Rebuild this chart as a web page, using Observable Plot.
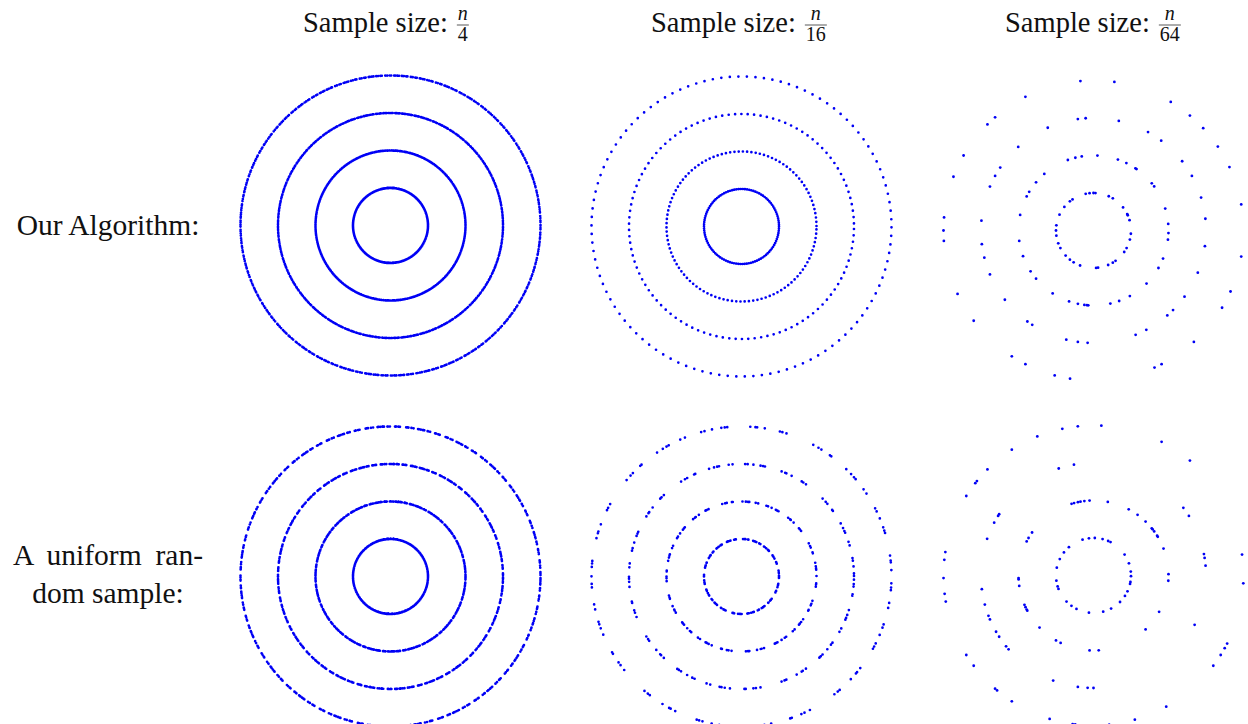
<!DOCTYPE html>
<html>
<head>
<meta charset="utf-8">
<script src="https://cdn.jsdelivr.net/npm/d3@7"></script>
<script src="https://cdn.jsdelivr.net/npm/@observablehq/plot@0.6"></script>
<style>
  html, body { margin: 0; padding: 0; background: #fff; }
  body { width: 1248px; height: 724px; overflow: hidden; position: relative;
         font-family: "Liberation Serif", "DejaVu Serif", serif; color: #111; }
  #text { position: absolute; left: 0; top: 0; }
  .panel { position: absolute; }
</style>
</head>
<body>
<svg id="text" width="1248" height="724"></svg>
<script>
// ---------------- data ----------------
const ringRadii = [1, 2, 3, 4];
const sampleDenominators = ["4", "16", "64"];
const rowLabelOurs = ["Our Algorithm:"];
const rowLabelRandom = ["A uniform ran-", "dom sample:"];

// approximate number of points per ring in the dense panels
const countsQuarter = [440, 440, 440, 440];
const countsSixteenth = [110, 110, 110, 110];

// relative gaps between neighbouring points (1 = mean spacing), read from the texture
const gapsOursQuarter = [1.0, 0.8, 1.3, 0.9, 1.1, 0.6, 1.6, 0.9, 1.2, 0.7, 1.4, 0.5];
const gapsOursSixteenth = [1.0];
const gapsRandomQuarter = [0.2, 0.5, 1.6, 0.3, 0.9, 2.4, 0.4, 0.1, 1.1, 0.7, 2.9, 0.6, 0.3, 0.2, 1.4, 1.0, 2.1, 0.5, 0.8, 1.0];
const gapsRandomSixteenth = [0.4, 0.3, 2.7, 0.6, 0.2, 0.9, 1.8, 0.3, 0.5, 3.4, 0.7, 0.4, 1.2, 0.2, 2.3, 0.8, 0.5, 0.3, 1.5, 0.6, 2.0, 0.4, 0.9, 1.1];

// point angles (degrees, counter-clockwise from east) for the n/64 panels
const ours64Ring1 = [102,96,90,87,66,59,38,26,24,16,355,346,332,325,306,301,293,274,277,249,238,231,222,208,200,188,180,172,155,141,129,124];
const ours64Ring2 = [110,104,99,87,71,64,56,55,39,36,17,5,358,353,338,330,315,299,290,283,266,265,263,258,251,237,220,213,200,188,168,153,149,140,131];
const ours64Ring3 = [98,94,77,61,53,38,29,17,6,352,338,324,315,311,298,292,267,262,256,237,234,218,203,194,187,175,157,151,146,132,114];
const ours64Ring4 = [95,82,59,50,43,34,25,10,350,336,329,312,297,294,261,255,243,237,217,205,184,180,175,159,150,135,131,117];

const random64Ring1 = [107,97,88,76,67,63,34,19,6,359,350,347,335,327,315,298,285,263,243,234,224,201,197,188,168,154,142,131];
const random64Ring2 = [107,105,102,100,97,93,79,62,54,46,39,38,36,32,31,21,1,356,331,314,274,267,244,240,224,208,207,205,203,188,183,182,153,150,145];
const random64Ring3 = [108,100,37,32,148,147,152,161,11,9,5,187,195,201,203,210,213,219,221,334,249,262,267,270];
const random64Ring4 = [112,102,96,87,63,50,123,135,141,142,148,171,174,181,187,190,8,357,212,217,333,331,328,323,229,230,237,299,253,262,263,276,286];

// ---------------- layout ----------------
const BLUE = "#0000f5";
const S = 330;           // panel size in px
const UNIT = 37.5;       // px per ring unit
const D = S / 2 / UNIT;  // domain half-width

function densePanel(counts, gaps) {
  const marks = ringRadii.map((r, i) => {
    const spacing = 2 * Math.PI * r * UNIT / counts[i];
    const dash = gaps.flatMap(g => [0, +(g * spacing).toFixed(3)]).join(" ");
    return Plot.dot([r], {
      x: () => 0, y: () => 0, r: d => d,
      fill: "none", stroke: BLUE, strokeWidth: 2.7,
      strokeLinecap: "round", strokeDasharray: dash,
      strokeDashoffset: +(i * 5.3 * spacing).toFixed(3)
    });
  });
  return Plot.plot({
    width: S, height: S, margin: 0,
    style: {background: "transparent", overflow: "visible"},
    x: {domain: [-D, D], axis: null},
    y: {domain: [-D, D], axis: null},
    r: {type: "linear", domain: [0, D], range: [0, S / 2]},
    marks
  });
}

function sparsePanel(ringAngles) {
  const pts = ringAngles.flatMap((arr, i) => arr.map(a => ({r: ringRadii[i], a})));
  return Plot.plot({
    width: S, height: S, margin: 0,
    style: {background: "transparent", overflow: "visible"},
    x: {domain: [-D, D], axis: null},
    y: {domain: [-D, D], axis: null},
    marks: [
      Plot.dot(pts, {
        x: d => d.r * Math.cos(d.a * Math.PI / 180),
        y: d => d.r * Math.sin(d.a * Math.PI / 180),
        r: 1.4, fill: BLUE, stroke: "none"
      })
    ]
  });
}

const panels = [
  {cx: 389.5, cy: 225,   make: () => densePanel(countsQuarter, gapsOursQuarter)},
  {cx: 741,   cy: 225.5, make: () => densePanel(countsSixteenth, gapsOursSixteenth)},
  {cx: 1093,  cy: 229.5, make: () => sparsePanel([ours64Ring1, ours64Ring2, ours64Ring3, ours64Ring4])},
  {cx: 389.5, cy: 575.5, make: () => densePanel(countsQuarter, gapsRandomQuarter)},
  {cx: 741,   cy: 575.5, make: () => densePanel(countsSixteenth, gapsRandomSixteenth)},
  {cx: 1093,  cy: 575,   make: () => sparsePanel([random64Ring1, random64Ring2, random64Ring3, random64Ring4])}
];

for (const p of panels) {
  const div = document.createElement("div");
  div.className = "panel";
  div.style.left = (p.cx - S / 2) + "px";
  div.style.top = (p.cy - S / 2) + "px";
  div.style.width = S + "px";
  div.style.height = S + "px";
  div.appendChild(p.make());
  document.body.appendChild(div);
}

// ---------------- text ----------------
const svg = d3.select("#text");
const FS = 28.5;
const FRAC = 20;
const titleX = [303, 651, 1005];
sampleDenominators.forEach((den, i) => {
  const t = svg.append("text").attr("x", titleX[i]).attr("y", 31.7)
    .attr("font-size", FS).attr("fill", "#111").text("Sample size:");
  const len = t.node().getComputedTextLength();
  const dt = svg.append("text").attr("y", 41).attr("font-size", FRAC)
    .attr("fill", "#111").attr("text-anchor", "middle").text(den);
  const dw = dt.node().getComputedTextLength();
  const w = Math.max(dw, 10);
  const fx = titleX[i] + len + 10 + w / 2;
  dt.attr("x", fx);
  svg.append("text").attr("x", fx).attr("y", 20).attr("font-size", FRAC)
    .attr("font-style", "italic").attr("fill", "#111").attr("text-anchor", "middle").text("n");
  svg.append("line").attr("x1", fx - w / 2 - 1).attr("x2", fx + w / 2 + 1)
    .attr("y1", 25).attr("y2", 25).attr("stroke", "#111").attr("stroke-width", 0.7);
});

const FL = 29.5;
rowLabelOurs.forEach((s, i) => {
  svg.append("text").attr("x", 108).attr("y", 235 + i * 38).attr("font-size", FL)
    .attr("fill", "#111").attr("text-anchor", "middle").text(s);
});
rowLabelRandom.forEach((s, i) => {
  const t = svg.append("text").attr("x", 108).attr("y", 565 + i * 38).attr("font-size", FL)
    .attr("fill", "#111").attr("text-anchor", "middle").text(s);
  if (i === 0) {
    const len = t.node().getComputedTextLength();
    const spaces = (s.match(/ /g) || []).length;
    if (len < 190 && spaces) t.attr("word-spacing", (190 - len) / spaces);
  }
});
</script>
</body>
</html>
